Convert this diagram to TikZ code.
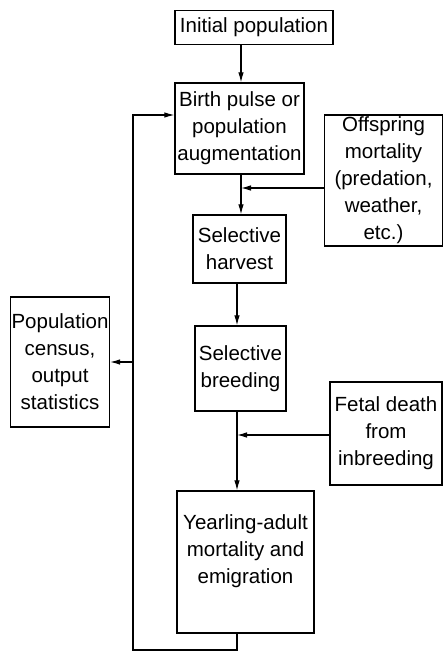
\documentclass[tikz,border=0pt]{standalone}
\usepackage{fontspec}
\setmainfont{Liberation Sans}
\usetikzlibrary{arrows.meta}

\tikzset{
	stage/.style={draw,line width=1.2pt,align=center,inner sep=1pt,font=\fontsize{20.5}{27}\selectfont},
	flow/.style={line width=1.1pt,-{Latex[length=10pt,width=5.5pt]}},
}

\begin{document}
\begin{tikzpicture}[x=1pt,y=-1pt]
		
		\useasboundingbox (0,0) rectangle (443,652);
		
		\node[stage,minimum width=158pt,minimum height=34pt] (init) at (254,27.5) {Initial population};
		\node[stage,minimum width=129pt,minimum height=91pt] (birth) at (239.5,128.5) {Birth pulse or\\population\\augmentation};
		\node[stage,minimum width=118pt,minimum height=131pt] (offspring) at (383.5,180.5) {Offspring\\mortality\\(predation,\\weather,\\etc.)};
		\node[stage,minimum width=93pt,minimum height=68pt] (harvest) at (239.5,249) {Selective\\harvest};
		\node[stage,minimum width=91pt,minimum height=85pt] (breeding) at (240.5,368.5) {Selective\\breeding};
		\node[stage,minimum width=112pt,minimum height=103pt] (fetal) at (386,433.5) {Fetal death\\from\\inbreeding};
		\node[stage,minimum width=137pt,minimum height=142pt,text depth=26pt] (yearling) at (245.5,562) {Yearling-adult\\mortality and\\emigration};
		\node[stage,minimum width=96pt,minimum height=130pt] (census) at (60,362) {Population\\census,\\output\\statistics};
		
		%\draw (yearling.south) node{loop};
		\coordinate (join1) at (241,188);
		\coordinate (join2) at (237,435);
		\coordinate (loopbottom) at (133,650);
		\coordinate (looptop) at (133,115);
		\coordinate (loopcensus) at (133,362);
		
		\draw[flow] (init.south -| join1) to (join1 |- birth.north);
		\draw[flow] (birth.south -| join1) to (join1 |- harvest.north);
		\draw[flow] (offspring.west |- join1) to (join1);
		\draw[flow] (harvest.south -| join2) to (join2 |- breeding.north);
		\draw[flow] (fetal.west |- join2) to (join2);
		\draw[flow] (breeding.south -| join2) to (join2 |- yearling.north);
		
		\draw[flow] (yearling.south -| join2) |- (loopbottom) to (looptop) to (birth.west |- looptop);
		\draw[flow] (loopcensus) to (census.east |- loopcensus);
		
	\end{tikzpicture}
\end{document}
